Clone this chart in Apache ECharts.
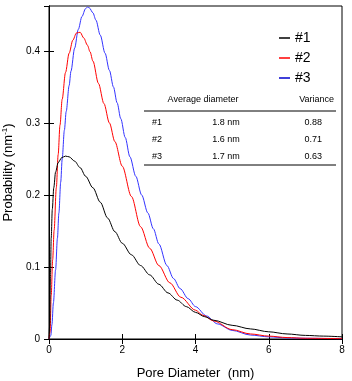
<!DOCTYPE html>
<html>
<head>
<meta charset="utf-8">
<script src="https://cdn.jsdelivr.net/npm/echarts@6/dist/echarts.min.js"></script>
<style>
  html, body { margin: 0; padding: 0; background: #fff; }
  #main { width: 352px; height: 381px; }
</style>
</head>
<body>
<div id="main"></div>
<script>
// pore diameter (nm) / probability (nm^-1)
var dia1 = [0, 0.02, 0.04, 0.06, 0.09, 0.13, 0.18, 0.25, 0.35, 0.45, 0.55, 0.7, 0.85, 1.0, 1.2, 1.4, 1.6, 1.8, 2.0, 2.25, 2.5, 2.75, 3.0, 3.25, 3.5, 3.75, 4.0, 4.25, 4.5, 5.0, 5.5, 6.0, 6.5, 7.0, 7.5, 8.0];
var prob1 = [0, 0.02, 0.09, 0.14, 0.18, 0.21, 0.232, 0.245, 0.252, 0.254, 0.253, 0.247, 0.238, 0.226, 0.21, 0.19, 0.168, 0.149, 0.133, 0.117, 0.102, 0.089, 0.076, 0.064, 0.054, 0.045, 0.037, 0.031, 0.026, 0.019, 0.014, 0.010, 0.007, 0.005, 0.004, 0.003];

var dia2 = [0, 0.03, 0.06, 0.1, 0.14, 0.2, 0.25, 0.3, 0.36, 0.45, 0.55, 0.65, 0.75, 0.85, 0.95, 1.05, 1.12, 1.2, 1.35, 1.5, 1.65, 1.8, 2.0, 2.25, 2.5, 2.75, 3.0, 3.3, 3.6, 4.0, 4.2, 4.5, 5.0, 5.5, 6.0, 6.5, 7.0, 8.0];
var prob2 = [0, 0.01, 0.06, 0.11, 0.151, 0.21, 0.256, 0.297, 0.333, 0.37, 0.397, 0.415, 0.425, 0.426, 0.418, 0.408, 0.399, 0.386, 0.355, 0.327, 0.3, 0.274, 0.24, 0.198, 0.156, 0.126, 0.102, 0.078, 0.058, 0.04, 0.033, 0.025, 0.013, 0.007, 0.004, 0.002, 0.001, 0.0005];

var dia3 = [0, 0.05, 0.08, 0.12, 0.18, 0.23, 0.27, 0.32, 0.36, 0.42, 0.47, 0.55, 0.6, 0.7, 0.8, 0.9, 1.0, 1.05, 1.1, 1.2, 1.28, 1.4, 1.53, 1.65, 1.76, 1.86, 1.96, 2.08, 2.21, 2.37, 2.53, 2.7, 2.85, 3.0, 3.22, 3.4, 3.58, 3.8, 4.0, 4.3, 4.6, 5.0, 5.5, 6.0, 6.5, 7.0, 8.0];
var prob3 = [0, 0.005, 0.02, 0.05, 0.096, 0.14, 0.175, 0.218, 0.25, 0.29, 0.316, 0.352, 0.372, 0.404, 0.43, 0.448, 0.459, 0.461, 0.46, 0.453, 0.443, 0.422, 0.397, 0.373, 0.35, 0.328, 0.306, 0.28, 0.253, 0.226, 0.2, 0.175, 0.153, 0.132, 0.102, 0.084, 0.07, 0.056, 0.045, 0.032, 0.021, 0.012, 0.0055, 0.003, 0.0015, 0.001, 0.0003];

var sampleNames = ['#1', '#2', '#3'];
var avgDiameter = ['1.8 nm', '1.6 nm', '1.7 nm'];
var variance = ['0.88', '0.71', '0.63'];
var xTicks = ['0', '2', '4', '6', '8'];

var colors = ['#000000', '#ff0000', '#3333ff'];
var legendColors = ['#000000', '#ff0000', '#0000cc'];
var font = 'Liberation Sans';

function pairs(xs, ys) {
    var out = [];
    for (var i = 0; i < xs.length; i++) {
        out.push([xs[i], ys[i]]);
    }
    return out;
}

var chart = echarts.init(document.getElementById('main'));

var seriesData = [pairs(dia1, prob1), pairs(dia2, prob2), pairs(dia3, prob3)];
var series = [];
for (var i = 0; i < 3; i++) {
    series.push({
        name: sampleNames[i],
        type: 'line',
        data: seriesData[i],
        showSymbol: false,
        smooth: 0.3,
        smoothMonotone: 'x',
        lineStyle: { color: colors[i], width: 1 },
        itemStyle: { color: legendColors[i] },
        z: 3 - i
    });
}

// table drawn as graphic text/lines
var graphics = [
    { type: 'line', shape: { x1: 144, y1: 111, x2: 336, y2: 111 }, style: { stroke: '#000', lineWidth: 1 } },
    { type: 'line', shape: { x1: 144, y1: 165, x2: 336, y2: 165 }, style: { stroke: '#000', lineWidth: 1 } },
    { type: 'text', x: 203, y: 100, style: { text: 'Average diameter', font: '9px ' + font, fill: '#000', align: 'center', verticalAlign: 'middle' } },
    { type: 'text', x: 334, y: 100, style: { text: 'Variance', font: '9px ' + font, fill: '#000', align: 'right', verticalAlign: 'middle' } }
];
var rowY = [123, 140, 157];
for (var r = 0; r < 3; r++) {
    graphics.push({ type: 'text', x: 152, y: rowY[r], style: { text: sampleNames[r], font: '9px ' + font, fill: '#000', align: 'left', verticalAlign: 'middle' } });
    graphics.push({ type: 'text', x: 226, y: rowY[r], style: { text: avgDiameter[r], font: '9px ' + font, fill: '#000', align: 'center', verticalAlign: 'middle' } });
    graphics.push({ type: 'text', x: 322, y: rowY[r], style: { text: variance[r], font: '9px ' + font, fill: '#000', align: 'right', verticalAlign: 'middle' } });
}

var option = {
    backgroundColor: '#fff',
    animation: false,
    textStyle: { fontFamily: font },
    grid: {
        left: 49, right: 10, top: 6, bottom: 42,
        containLabel: false, outerBoundsMode: 'none',
        show: true, borderColor: '#000', borderWidth: 1
    },
    legend: {
        data: sampleNames,
        orient: 'vertical',
        left: 274,
        top: 26,
        itemGap: 6,
        itemWidth: 11,
        itemHeight: 1.5,
        icon: 'rect',
        textStyle: { fontSize: 14, color: '#000', fontFamily: font }
    },
    xAxis: [{
        type: 'value',
        min: 0,
        max: 8,
        interval: 2,
        name: 'Pore Diameter  (nm)',
        nameLocation: 'middle',
        nameGap: 28,
        nameTextStyle: { fontSize: 13, color: '#000', fontFamily: font },
        axisLine: { lineStyle: { color: '#000', width: 1 } },
        axisTick: { inside: true, length: 5, lineStyle: { color: '#000' } },
        axisLabel: { fontSize: 10, color: '#000', margin: 6, formatter: function (v) { return xTicks[v / 2]; } },
        splitLine: { show: false }
    }, {
        type: 'value',
        position: 'top',
        min: 0,
        max: 8,
        interval: 2,
        axisLine: { lineStyle: { color: '#000', width: 1 } },
        axisTick: { inside: true, length: 5, lineStyle: { color: '#000' } },
        axisLabel: { show: false },
        splitLine: { show: false }
    }],
    yAxis: [{
        type: 'value',
        min: 0,
        max: 0.4625,
        interval: 0.1,
        name: 'Probability (nm{sup|-1})',
        nameLocation: 'middle',
        nameGap: 30,
        nameTextStyle: {
            fontSize: 13, color: '#000', fontFamily: font,
            rich: { sup: { fontSize: 8, color: '#000', fontFamily: font, verticalAlign: 'top', padding: [0, 0, 8, 0] } }
        },
        axisLine: { lineStyle: { color: '#000', width: 1 } },
        axisTick: { inside: true, length: 5, lineStyle: { color: '#000' } },
        axisLabel: { fontSize: 10, color: '#000', margin: 9, showMaxLabel: false },
        splitLine: { show: false }
    }, {
        type: 'value',
        position: 'right',
        min: 0,
        max: 0.4625,
        interval: 0.1,
        axisLine: { lineStyle: { color: '#000', width: 1 } },
        axisTick: { inside: true, length: 5, lineStyle: { color: '#000' } },
        axisLabel: { show: false },
        splitLine: { show: false }
    }],
    graphic: graphics,
    series: series
};

chart.setOption(option);
</script>
</body>
</html>
